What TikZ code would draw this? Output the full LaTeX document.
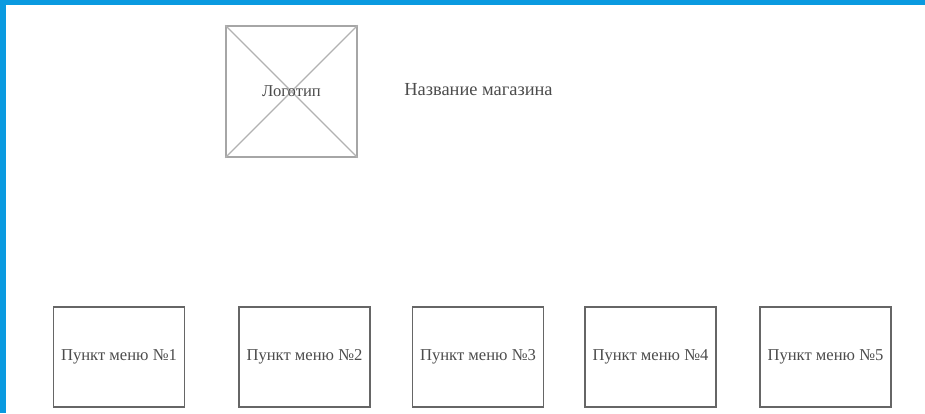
\documentclass[tikz,border=0pt]{standalone}
\usepackage{fontspec}
\setmainfont{Liberation Serif}
\usetikzlibrary{positioning}

\definecolor{frameblue}{HTML}{0A9AE0}

\begin{document}
\begin{tikzpicture}[x=1pt,y=-1pt,
 logobox/.style={draw=black!35,line width=1.3pt,minimum width=131pt,minimum height=131pt,inner sep=0pt},
 menubox/.style={draw=black!60,line width=1.3pt,minimum width=131pt,minimum height=100pt,inner sep=0pt},
 cross/.style={draw=black!30,line width=1.1pt},
 txt/.style={font=\fontsize{16.6}{19}\selectfont,text=black!70},
 bigtxt/.style={font=\fontsize{18.4}{21}\selectfont,text=black!70}]
% frame
\fill[frameblue] (0,0) rectangle (925,413);
\fill[white] (6,5) rectangle (925,413);
\useasboundingbox (0,0) rectangle (925,413);
% header
\node[logobox] (logo) at (291.5,91.5) {};
\draw[cross] (logo.north west) -- (logo.south east);
\draw[cross] (logo.north east) -- (logo.south west);
\node[txt] (logotxt) at (logo.center) {Логотип};
\node[bigtxt] (shop) at (478.5,90) {Название магазина};
% menu
\node[menubox,txt] (m1) at (119,357) {Пункт меню №1};
\node[menubox,txt] (m2) at (304.5,357) {Пункт меню №2};
\node[menubox,txt] (m3) at (478,357) {Пункт меню №3};
\node[menubox,txt] (m4) at (650.5,357) {Пункт меню №4};
\node[menubox,txt] (m5) at (825.5,357) {Пункт меню №5};
\end{tikzpicture}
\end{document}
